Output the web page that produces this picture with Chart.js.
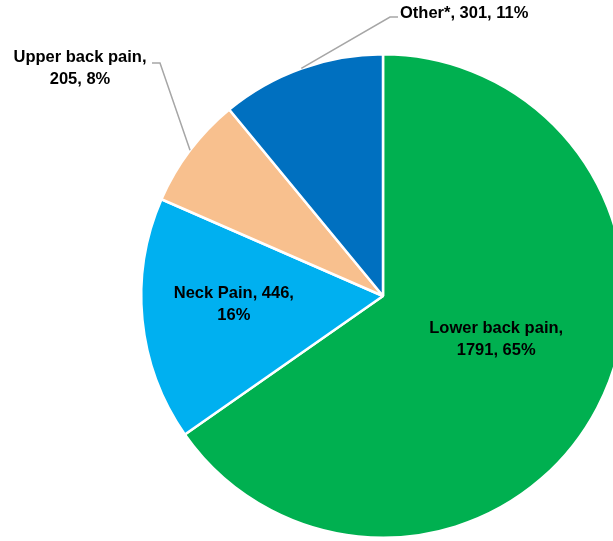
<!DOCTYPE html>
<html>
<head>
<meta charset="utf-8">
<script src="https://cdn.jsdelivr.net/npm/chart.js@4.4.0/dist/chart.umd.min.js"></script>
<style>
  html, body { margin: 0; padding: 0; background: #fff; overflow: hidden; }
  #wrap { position: absolute; left: 0; top: 0; width: 766px; height: 541px; }
</style>
</head>
<body>
<div id="wrap"><canvas id="pieChart"></canvas></div>
<script>
// data
const categories = ['Lower back pain', 'Neck Pain', 'Upper back pain', 'Other*'];
const counts = [1791, 446, 205, 301];
const percents = ['65%', '16%', '8%', '11%'];
const colors = ['#00B050', '#00B0F0', '#F8C08E', '#0070C0'];

// label text lines per slice
const labelLines = [
    ['Lower back pain,', '1791, 65%'],
    ['Neck Pain, 446,', '16%'],
    ['Upper back pain,', '205, 8%'],
    ['Other*, 301, 11%']
];

// how each label is placed: inside at a fraction of the radius, or outside with a leader
const labelPlace = [
    { inside: true, frac: 0.5, dx: 6, dy: -12 },
    { inside: true, frac: 0.62, dx: 0, dy: -6 },
    { inside: false, elbow: [-223, -233], text: [-303, -239], align: 'center' },
    { inside: false, elbow: [7, -279], text: [17, -283], align: 'left' }
];

const labelPlugin = {
    id: 'sliceLabels',
    afterDatasetsDraw(chart) {
        const ctx = chart.ctx;
        const arcs = chart.getDatasetMeta(0).data;
        ctx.save();
        ctx.font = 'bold 16.5px "Liberation Sans", Arial, sans-serif';
        ctx.fillStyle = '#000';
        ctx.textBaseline = 'middle';
        const lh = 22;
        arcs.forEach(function(arc, i) {
            const p = labelPlace[i];
            const mid = (arc.startAngle + arc.endAngle) / 2;
            const lines = labelLines[i];
            if (p.inside) {
                const r = arc.outerRadius * p.frac;
                const x = arc.x + Math.cos(mid) * r + p.dx;
                const y = arc.y + Math.sin(mid) * r + p.dy;
                ctx.textAlign = 'center';
                lines.forEach(function(t, k) {
                    ctx.fillText(t, x, y + (k - (lines.length - 1) / 2) * lh);
                });
            } else {
                const ex = arc.x + Math.cos(mid) * arc.outerRadius;
                const ey = arc.y + Math.sin(mid) * arc.outerRadius;
                const bx = arc.x + p.elbow[0];
                const by = arc.y + p.elbow[1];
                const tx = arc.x + p.text[0];
                const ty = arc.y + p.text[1];
                ctx.strokeStyle = '#A6A6A6';
                ctx.lineWidth = 1.5;
                ctx.beginPath();
                ctx.moveTo(ex, ey);
                ctx.lineTo(bx, by);
                if (p.align === 'left') ctx.lineTo(bx + 8, by);
                else ctx.lineTo(bx - 8, by);
                ctx.stroke();
                ctx.textAlign = p.align;
                lines.forEach(function(t, k) {
                    ctx.fillText(t, tx, ty + k * lh);
                });
            }
        });
        ctx.restore();
    }
};

new Chart(document.getElementById('pieChart'), {
    type: 'pie',
    data: {
        labels: categories,
        datasets: [{
            data: counts,
            backgroundColor: colors,
            borderColor: '#ffffff',
            borderWidth: 2.5,
            hoverOffset: 0
        }]
    },
    options: {
        responsive: true,
        maintainAspectRatio: false,
        animation: false,
        layout: { padding: { top: 53, bottom: 2, left: 0, right: 0 } },
        plugins: {
            legend: { display: false },
            tooltip: { enabled: false }
        }
    },
    plugins: [labelPlugin]
});
</script>
</body>
</html>
